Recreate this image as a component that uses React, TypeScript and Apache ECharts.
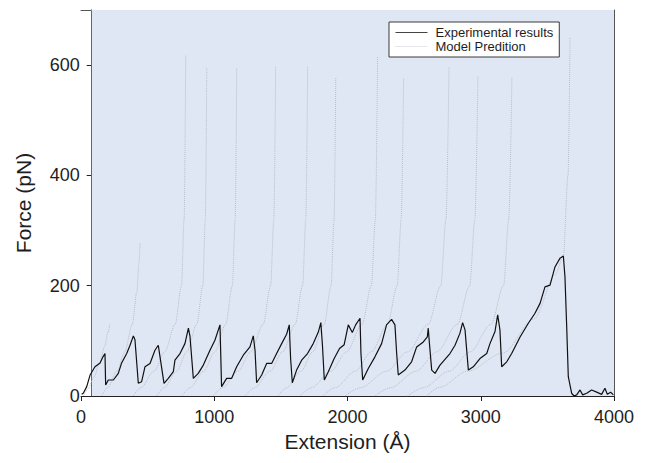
import React, { useEffect, useRef } from "react";
import * as echarts from "echarts";

const xTickValues = [0, 1000, 2000, 3000, 4000];
const yTickValues = [0, 200, 400, 600];

const expX = [5, 17, 43, 68, 105, 143, 165, 180, 185, 205, 243, 280, 305, 343, 368, 393, 405, 430, 455, 480, 518, 555, 580, 593, 623, 655, 693, 705, 743, 780, 806, 818, 843, 880, 918, 968, 1005, 1043, 1055, 1093, 1131, 1168, 1218, 1268, 1293, 1306, 1318, 1356, 1393, 1431, 1468, 1506, 1543, 1563, 1573, 1586, 1618, 1656, 1700, 1743, 1781, 1800, 1812, 1826, 1856, 1900, 1940, 1975, 2006, 2036, 2061, 2094, 2101, 2114, 2156, 2206, 2256, 2293, 2331, 2356, 2369, 2381, 2431, 2481, 2519, 2569, 2599, 2606, 2614, 2632, 2657, 2694, 2769, 2807, 2844, 2864, 2882, 2907, 2944, 2994, 3045, 3069, 3107, 3127, 3144, 3157, 3195, 3232, 3295, 3357, 3407, 3445, 3482, 3520, 3557, 3595, 3620, 3632, 3645, 3657, 3682, 3700, 3720, 3745, 3765, 3795, 3832, 3870, 3907, 3932, 3950, 3975, 3995];
const expF = [3, 5, 17, 38, 53, 60, 71, 77, 20, 29, 29, 41, 60, 77, 92, 109, 102, 23, 26, 53, 59, 83, 92, 71, 23, 32, 44, 65, 77, 95, 123, 108, 32, 41, 56, 83, 101, 129, 17, 32, 32, 53, 74, 89, 109, 83, 24, 38, 59, 59, 77, 95, 112, 129, 68, 24, 47, 65, 77, 95, 116, 133, 92, 29, 44, 68, 86, 93, 129, 115, 129, 141, 77, 29, 50, 71, 95, 129, 139, 129, 77, 38, 47, 62, 89, 98, 107, 123, 98, 47, 41, 56, 77, 92, 114, 133, 120, 47, 53, 68, 77, 95, 117, 147, 120, 53, 62, 77, 107, 132, 150, 168, 198, 201, 234, 250, 254, 216, 126, 35, 5, 0, 2, 11, 2, 5, 11, 7, 3, 14, 3, 7, 2];

const model01 = [[20, 0], [50, 12], [99, 35], [139, 60], [178, 90], [202, 115], [218, 132]];
const model02 = [[155, 0], [198, 15], [270, 45], [328, 80], [385, 130], [420, 190], [434, 240], [443, 277]];
const model03 = [[390, 0], [449, 15], [548, 45], [628, 80], [707, 130], [754, 200], [774, 320], [786, 618]];
const model04 = [[568, 0], [624, 15], [718, 45], [794, 80], [869, 130], [914, 200], [933, 320], [944, 595]];
const model05 = [[756, 0], [818, 15], [921, 45], [1004, 80], [1086, 130], [1136, 200], [1157, 320], [1169, 595]];
const model06 = [[991, 0], [1062, 15], [1179, 45], [1273, 80], [1367, 130], [1423, 200], [1447, 320], [1461, 597]];
const model07 = [[1231, 0], [1302, 15], [1419, 45], [1513, 80], [1607, 130], [1663, 200], [1687, 320], [1701, 597]];
const model08 = [[1478, 0], [1543, 15], [1652, 45], [1738, 80], [1825, 130], [1877, 200], [1899, 320], [1912, 578]];
const model09 = [[1643, 0], [1730, 15], [1876, 45], [1993, 80], [2109, 130], [2179, 200], [2209, 320], [2226, 615]];
const model10 = [[1816, 0], [1907, 15], [2058, 45], [2179, 80], [2300, 130], [2373, 200], [2403, 320], [2421, 577]];
const model11 = [[1981, 0], [2098, 15], [2293, 45], [2450, 80], [2606, 130], [2700, 200], [2739, 320], [2762, 597]];
const model12 = [[2206, 0], [2322, 15], [2515, 45], [2670, 80], [2824, 130], [2917, 200], [2956, 320], [2979, 580]];
const model13 = [[2450, 0], [2568, 15], [2764, 45], [2920, 80], [3077, 130], [3171, 200], [3210, 320], [3234, 578]];
const model14 = [[2594, 0], [2694, 16], [2900, 45], [3167, 78], [3400, 140], [3560, 220], [3620, 254], [3655, 400], [3670, 650]];
const modelCurves = [model01, model02, model03, model04, model05, model06, model07, model08, model09, model10, model11, model12, model13, model14];

// plot frame region (y-axis sits at this extension value)
const frameStartX = 80;

const FONT = "'Liberation Sans', Arial, Helvetica, sans-serif";
const TEXT = "#1e1e1e";
const MODEL_COLOR = "#b6bdcb";

export default function App() {
  const ref = useRef<HTMLDivElement>(null);
  useEffect(() => {
    if (!ref.current) return;
    const chart = echarts.init(ref.current, undefined, { renderer: "svg" });
    const modelSeries = modelCurves.map((c) => ({
      type: "line",
      name: "Model Predition",
      data: c,
      symbol: "none",
      smooth: 0.3,
      smoothMonotone: "x",
      z: 2,
      silent: true,
      lineStyle: { type: "dotted", width: 1, color: MODEL_COLOR },
      itemStyle: { color: MODEL_COLOR },
    }));
    chart.setOption({
      animation: false,
      backgroundColor: "#ffffff",
      textStyle: { fontFamily: FONT },
      grid: { left: 81, right: 31, top: 10, bottom: 67 },
      legend: {
        data: [
          { name: "Experimental results", itemStyle: { opacity: 0 }, lineStyle: { width: 1, color: "#444", type: "solid" } },
          { name: "Model Predition", itemStyle: { opacity: 0 }, lineStyle: { width: 1, color: "#c8cdd6", type: "dotted" } },
        ],
        orient: "vertical",
        left: 389,
        top: 22,
        padding: [4, 6, 4, 6],
        itemGap: 1,
        itemWidth: 32,
        itemHeight: 14,
        borderColor: "#3a3a3a",
        borderWidth: 1,
        backgroundColor: "#ffffff",
        selectedMode: false,
        textStyle: { fontSize: 13, color: TEXT, fontFamily: FONT, padding: [0, 0, 0, 3] },
      },
      xAxis: [
        {
          type: "value",
          min: 0,
          max: 4000,
          interval: 1000,
          name: "Extension (Å)",
          nameLocation: "middle",
          nameGap: 33,
          nameTextStyle: { fontSize: 21, color: TEXT, fontFamily: FONT },
          axisLine: { show: true, lineStyle: { color: "#222", width: 1 } },
          axisTick: { show: true, length: 5, lineStyle: { color: "#222" }, customValues: xTickValues },
          axisLabel: {
            fontSize: 18,
            color: TEXT,
            margin: 12,
            fontFamily: FONT,
            customValues: xTickValues,
            formatter: (v: number) => String(v),
          },
          splitLine: { show: false },
        },
        {
          type: "value",
          position: "top",
          min: 0,
          max: 4000,
          axisLine: { show: true, onZero: false, lineStyle: { color: "#555", width: 1 } },
          axisTick: { show: false },
          axisLabel: { show: false },
          splitLine: { show: false },
        },
      ],
      yAxis: [
        {
          type: "value",
          min: 0,
          max: 700,
          interval: 200,
          offset: -10.7,
          name: "Force (pN)",
          nameLocation: "middle",
          nameGap: 58,
          nameTextStyle: { fontSize: 21, color: TEXT, fontFamily: FONT },
          axisLine: { show: true, onZero: false, lineStyle: { color: "#222", width: 1 } },
          axisTick: { show: true, length: 5, lineStyle: { color: "#222" }, customValues: yTickValues },
          axisLabel: {
            fontSize: 18,
            color: TEXT,
            margin: 12,
            fontFamily: FONT,
            customValues: yTickValues,
            formatter: (v: number) => String(v),
          },
          splitLine: { show: false },
        },
        {
          type: "value",
          position: "right",
          min: 0,
          max: 700,
          axisLine: { show: true, onZero: false, lineStyle: { color: "#555", width: 1 } },
          axisTick: { show: false },
          axisLabel: { show: false },
          splitLine: { show: false },
        },
      ],
      series: [
        {
          type: "line",
          data: [],
          z: 0,
          silent: true,
          markArea: {
            silent: true,
            itemStyle: { color: "#e0e7f4" },
            data: [[{ xAxis: frameStartX, yAxis: 0 }, { xAxis: 4000, yAxis: 700 }]],
          },
        },
        ...modelSeries,
        {
          type: "line",
          name: "Experimental results",
          data: expX.map((x, i) => [x, expF[i]]),
          symbol: "none",
          z: 5,
          silent: true,
          lineStyle: { color: "#111", width: 1.2 },
          itemStyle: { color: "#111" },
        },
      ],
    });
    return () => chart.dispose();
  }, []);
  return (
    <div
      ref={ref}
      style={{ position: "fixed", left: 0, top: 0, width: 645, height: 463, background: "#fff" }}
    />
  );
}
